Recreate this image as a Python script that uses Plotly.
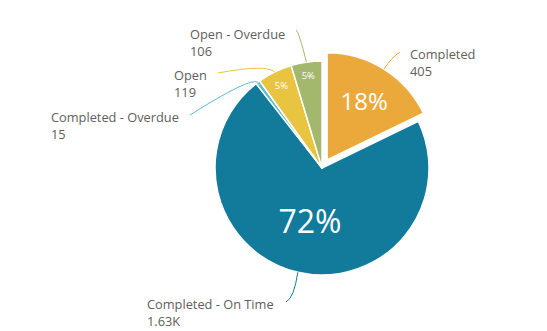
import math
import plotly.graph_objects as go

W, H = 547, 331

labels = ["Completed", "Completed - On Time", "Completed - Overdue", "Open", "Open - Overdue"]
values = [405, 1630, 15, 119, 106]
value_text = ["405", "1.63K", "15", "119", "106"]
colors = ["#ECA93B", "#127A9B", "#5DBBD2", "#E8C440", "#A3B86D"]
pulls = [0.09, 0, 0, 0, 0]
pct_sizes = [24, 32, 9.5, 9.5, 9.5]

# pie geometry (pixels)
cx, cy, r = 322, 168, 107
maxpull = max(pulls)
half = r * (1 + maxpull)
dom_x = [(cx - half) / W, (cx + half) / W]
y0 = 1 - (cy + half) / H
dom_y = [y0, y0 + 2 * half / H]

def px(x, y):
    return x / W, 1 - y / H

fig = go.Figure(go.Pie(
    labels=labels, values=values, sort=False, direction="clockwise", rotation=0,
    pull=pulls, domain=dict(x=dom_x, y=dom_y),
    marker=dict(colors=colors, line=dict(color="white", width=1.5)),
    textinfo="percent", texttemplate="%{percent:.0%}", textposition="inside",
    insidetextorientation="horizontal",
    insidetextfont=dict(family="Open Sans", color="white", size=pct_sizes),
    hoverinfo="skip", showlegend=False,
))

# label positions (pixels): left x, vertical centre of 2-line block; leader path bend/end points
label_pos = {
    "Completed": (408, 62),
    "Completed - On Time": (145, 312),
    "Completed - Overdue": (49, 126),
    "Open": (172, 83),
    "Open - Overdue": (188, 42),
}
leader_ends = {
    "Completed": [(392, 57), (400, 52)],
    "Completed - On Time": [(294, 298), (286, 302)],
    "Completed - Overdue": [(250, 77), (190, 115)],
    "Open": [(266, 64), (218, 73)],
    "Open - Overdue": [(299, 32), (296, 30)],
}

total = sum(values)
acc = 0
shapes = []
annotations = []
for lab, v, p, col, vt in zip(labels, values, pulls, colors, value_text):
    mid = (acc + v / 2) / total * 2 * math.pi
    acc += v
    dx, dy = math.sin(mid), -math.cos(mid)
    ox, oy = cx + dx * r * p, cy + dy * r * p
    sx, sy = ox + dx * r, oy + dy * r
    (bx, by), (ex, ey) = leader_ends[lab]
    a = px(sx, sy); b = px(bx, by); e = px(ex, ey)
    path = f"M {a[0]},{a[1]} Q {b[0]},{b[1]} {e[0]},{e[1]}"
    shapes.append(dict(type="path", xref="paper", yref="paper", path=path,
                       line=dict(color=col, width=1)))
    lx, ly = label_pos[lab]
    fx, fy = px(lx, ly)
    annotations.append(dict(x=fx, y=fy, xref="paper", yref="paper", xanchor="left",
                            yanchor="middle", align="left", showarrow=False,
                            text=f"{lab}<br>{vt}",
                            font=dict(family="Open Sans", size=12.8, color="#605E5C")))

fig.update_layout(
    width=W, height=H, margin=dict(l=0, r=0, t=0, b=0),
    paper_bgcolor="white", plot_bgcolor="white",
    shapes=shapes, annotations=annotations,
)
fig.write_html("out.html")
